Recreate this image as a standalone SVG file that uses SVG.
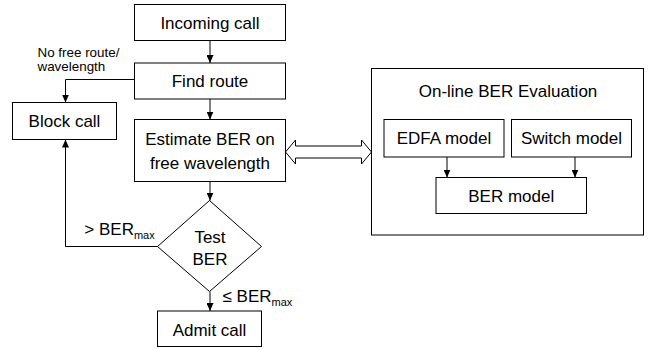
<svg xmlns="http://www.w3.org/2000/svg" width="655" height="349" viewBox="0 0 655 349">
<defs>
<style>
.box{fill:#fff;stroke:#000;stroke-width:1}
.frame{fill:none;stroke:#000;stroke-width:1}
.t{font-family:"Liberation Sans",Arial,sans-serif;font-size:17px;fill:#000;text-anchor:middle}
.lbl{font-family:"Liberation Sans",Arial,sans-serif;font-size:17px;fill:#000}
.small{font-family:"Liberation Sans",Arial,sans-serif;font-size:13.4px;fill:#000}
.sub{font-size:11px}
.c{fill:none;stroke:#000;stroke-width:1}
</style>
<marker id="ah" markerUnits="userSpaceOnUse" markerWidth="8" markerHeight="7" refX="8" refY="3.5" orient="auto">
<path d="M0,0 L8,3.5 L0,7 z" fill="#000"/>
</marker>
</defs>
<rect width="655" height="349" fill="#fff"/>
<g id="incoming">
<rect class="box" x="134.5" y="4.5" width="151" height="36"/>
<text class="t" x="210" y="29">Incoming call</text>
</g>
<g id="find">
<rect class="box" x="134.5" y="63" width="151" height="36"/>
<text class="t" x="210" y="87">Find route</text>
</g>
<g id="estimate">
<rect class="box" x="134.5" y="119.5" width="151" height="62"/>
<text class="t" x="210" y="144.5">Estimate BER on</text>
<text class="t" x="210" y="169">free wavelength</text>
</g>
<g id="block">
<rect class="box" x="12.5" y="102.5" width="104" height="37"/>
<text class="t" x="64.5" y="127">Block call</text>
</g>
<g id="test">
<polygon class="box" points="209.5,200.5 261.5,246.5 209.5,291.5 157.5,246.5"/>
<text class="t" x="210" y="242.5">Test</text>
<text class="t" x="210" y="264.5">BER</text>
</g>
<g id="admit">
<rect class="box" x="157.5" y="311" width="104" height="35.5"/>
<text class="t" x="209.5" y="335.5">Admit call</text>
</g>
<g id="evaluation">
<rect class="frame" x="371.5" y="68.5" width="272" height="166.5"/>
<text class="t" x="508" y="96.5">On-line BER Evaluation</text>
</g>
<g id="edfa">
<rect class="box" x="384" y="119.5" width="120" height="37.5"/>
<text class="t" x="444" y="144">EDFA model</text>
</g>
<g id="switch">
<rect class="box" x="511.5" y="119.5" width="120" height="37.5"/>
<text class="t" x="571.5" y="144">Switch model</text>
</g>
<g id="bermodel">
<rect class="box" x="436" y="177.5" width="150.5" height="36"/>
<text class="t" x="511.25" y="201.5">BER model</text>
</g>
<g id="connectors">
<line class="c" x1="210" y1="40.5" x2="210" y2="63" marker-end="url(#ah)"/>
<line class="c" x1="210" y1="99" x2="210" y2="119.5" marker-end="url(#ah)"/>
<line class="c" x1="210" y1="181.5" x2="210" y2="200.5" marker-end="url(#ah)"/>
<line class="c" x1="210" y1="291.5" x2="210" y2="311" marker-end="url(#ah)"/>
<polyline class="c" points="134.5,79.5 65.5,79.5 65.5,102.5" marker-end="url(#ah)"/>
<polyline class="c" points="157.5,246.5 65.5,246.5 65.5,139.5" marker-end="url(#ah)"/>
<line class="c" x1="447" y1="157" x2="447" y2="177.5" marker-end="url(#ah)"/>
<line class="c" x1="575" y1="157" x2="575" y2="177.5" marker-end="url(#ah)"/>
<polygon class="box" points="285.5,152 295.5,140 295.5,146 361.5,146 361.5,140 371.5,152 361.5,164 361.5,158 295.5,158 295.5,164"/>
<text class="small" x="37.5" y="57">No free route/</text>
<text class="small" x="37.5" y="71">wavelength</text>
<text class="lbl" x="84.3" y="235">&gt; BER<tspan class="sub" dy="3.5">max</tspan></text>
<text class="lbl" x="222.5" y="301.5">≤ BER<tspan class="sub" dy="4.5">max</tspan></text>
</g>
</svg>
